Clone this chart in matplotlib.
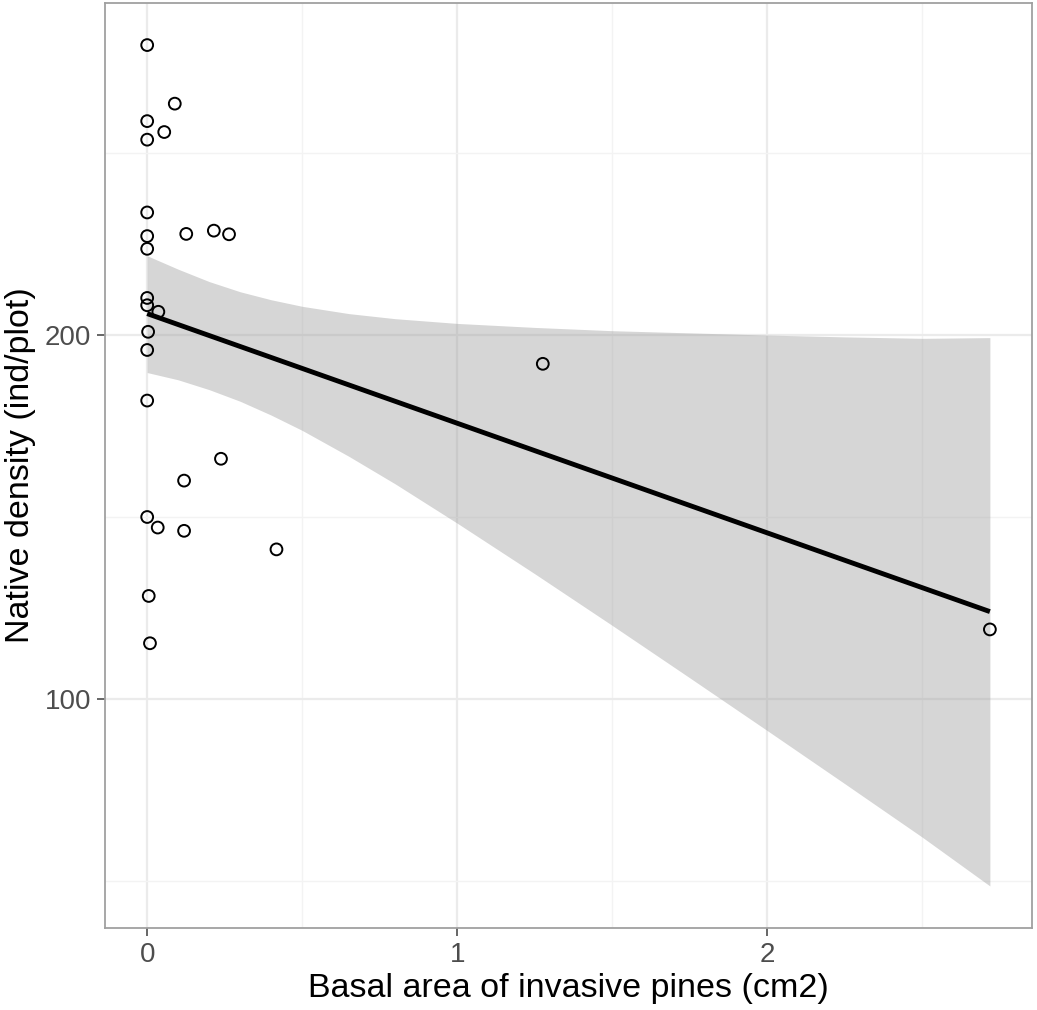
import numpy as np
import matplotlib
matplotlib.use("Agg")
import matplotlib.pyplot as plt
from matplotlib.ticker import FixedLocator

plt.rcParams["font.family"] = ["Liberation Sans", "DejaVu Sans"]

# plots: basal area of invasive pines (cm2) vs native plant density (ind/plot)
basal_area = [0.000, 0.089, 0.000, 0.055, 0.000, 0.000, 0.000, 0.000, 0.126,
              0.215, 0.264, 0.000, 0.000, 0.036, 0.003, 0.000, 0.000, 1.276,
              0.238, 0.119, 0.000, 0.034, 0.119, 0.417, 0.005, 0.009, 2.718]
native_density = [279.7, 263.6, 258.8, 255.8, 253.7, 233.7, 227.2, 223.7, 227.8,
                  228.7, 227.7, 210.2, 208.2, 206.4, 200.9, 195.9, 182.0, 192.1,
                  166.0, 160.0, 150.0, 147.1, 146.2, 141.1, 128.3, 115.3, 119.1]

# lm smooth: fitted line and its 95% confidence band
fit_x = [0.0, 2.718]
fit_y = [205.9, 124.0]
band_x = [0.0, 0.1, 0.2, 0.3, 0.4, 0.5, 0.65, 0.8, 1.0, 1.25,
          1.5, 1.75, 2.0, 2.25, 2.5, 2.718]
band_hi = [221.8, 218.1, 214.7, 211.9, 209.7, 207.9, 205.9, 204.5, 203.2, 202.1,
           201.2, 200.6, 200.0, 199.5, 199.1, 199.3]
band_lo = [189.7, 187.7, 185.0, 181.8, 178.0, 173.8, 166.7, 159.1, 148.3, 134.4,
           120.2, 105.8, 91.3, 76.7, 62.0, 48.6]

fig = plt.figure(figsize=(10.37, 10.10), dpi=100)
ax = fig.add_axes([0.1013, 0.0812, 0.8939, 0.9158])

ax.fill_between(band_x, band_lo, band_hi, color="#999999", alpha=0.4,
                linewidth=0, zorder=2)
ax.plot(fit_x, fit_y, color="black", lw=3.5, solid_capstyle="butt", zorder=3)
ax.scatter(basal_area, native_density, s=72, facecolors="none",
           edgecolors="black", linewidths=1.4, zorder=4)

# ggplot-style 5% expansion around points and band
xmin, xmax = min(basal_area), max(basal_area)
ymin = min(min(native_density), min(band_lo))
ymax = max(max(native_density), max(band_hi))
ax.set_xlim(xmin - 0.05 * (xmax - xmin), xmax + 0.05 * (xmax - xmin))
ax.set_ylim(ymin - 0.05 * (ymax - ymin), ymax + 0.05 * (ymax - ymin))

ax.set_xticks([0, 1, 2])
ax.set_yticks([100, 200])
ax.xaxis.set_minor_locator(FixedLocator([0.5, 1.5, 2.5]))
ax.yaxis.set_minor_locator(FixedLocator([50, 150, 250]))
ax.grid(which="major", color="#ebebeb", lw=1.6, zorder=0)
ax.grid(which="minor", color="#f3f3f3", lw=1.0, zorder=0)
ax.set_axisbelow(True)

ax.tick_params(which="major", length=6, width=1.2, color="#4d4d4d",
               labelsize=20, labelcolor="#4d4d4d", pad=4)
ax.tick_params(which="minor", length=0)
for sp in ax.spines.values():
    sp.set_color("#a0a0a0")
    sp.set_linewidth(1.3)

ax.set_xlabel("Basal area of invasive pines (cm2)", fontsize=24.5, labelpad=4)
ax.set_ylabel("Native density (ind/plot)", fontsize=24.5, labelpad=6)

fig.savefig("out.png", dpi=100, facecolor="white")
